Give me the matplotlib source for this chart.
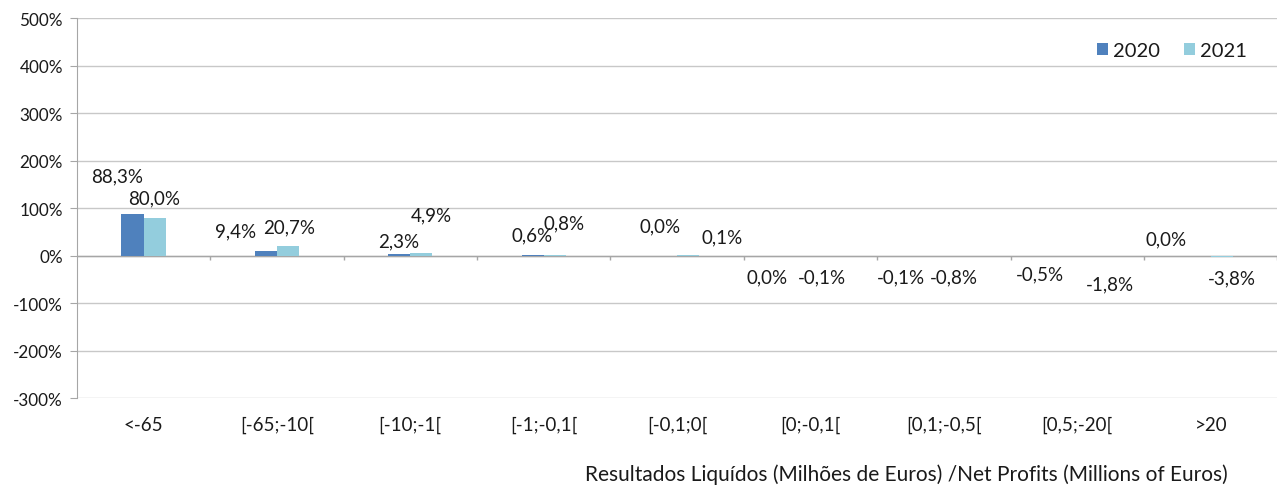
import numpy as np
import matplotlib.pyplot as plt

categorias = ['<-65', '[-65;-10[', '[-10;-1[', '[-1;-0,1[', '[-0,1;0[',
              '[0;-0,1[', '[0,1;-0,5[', '[0,5;-20[', '>20']
v2020 = [88.3, 9.4, 2.3, 0.6, 0.0, 0.0, -0.1, -0.5, 0.0]
v2021 = [80.0, 20.7, 4.9, 0.8, 0.1, -0.1, -0.8, -1.8, -3.8]

# posicion de las etiquetas respecto a la barra (pixeles)
off2020 = [(-15, 38), (-30, 20), (-1, 14), (-1, 20), (-6, 30),
           (-32, -21), (-32, -21), (-26, -18), (-34, 17)]
off2021 = [(0, 20), (1, 19), (10, 38), (9, 32), (34, 19),
           (0, -21), (-1, -21), (22, -27), (10, -21)]

plt.rcParams['font.family'] = ['Lato', 'DejaVu Sans']
plt.rcParams['font.size'] = 12.3

c2020 = '#4f81bd'
c2021 = '#93cddd'
gris = '#a6a6a6'
texto = '#1a1a1a'

fig = plt.figure(figsize=(12.8, 4.89), dpi=100)
ax = fig.add_axes([0.060, 0.184, 0.938, 0.777])

x = np.arange(len(categorias))
w = 0.165
ax.bar(x - w / 2, v2020, w, color=c2020, label='2020', zorder=3)
ax.bar(x + w / 2, v2021, w, color=c2021, label='2021', zorder=3)

def etiqueta(v):
    return f'{v:.1f}%'.replace('.', ',')

for xi, v, off in zip(x - w / 2, v2020, off2020):
    ax.annotate(etiqueta(v), (xi, v), xytext=off, textcoords='offset pixels',
                ha='center', va='center', color=texto, fontsize=13.5)
for xi, v, off in zip(x + w / 2, v2021, off2021):
    ax.annotate(etiqueta(v), (xi, v), xytext=off, textcoords='offset pixels',
                ha='center', va='center', color=texto, fontsize=13.5)

ax.set_xlim(-0.5, len(categorias) - 0.5)
ax.set_ylim(-300, 500)
ax.set_yticks(np.arange(-300, 501, 100))
ax.set_yticklabels([f'{t}%' for t in range(-300, 501, 100)], color=texto)
ax.yaxis.grid(True, color='#c8c8c8', linewidth=1)
ax.set_axisbelow(True)

ax.set_xticks(x)
ax.set_xticklabels(categorias, fontsize=13.5, color=texto)
ax.tick_params(axis='x', length=0, pad=13)
ax.tick_params(axis='y', length=5, color=gris, pad=5)

for s in ['top', 'right', 'bottom']:
    ax.spines[s].set_visible(False)
ax.spines['left'].set_color(gris)

# eje de categorias en el cero con sus marcas
ax.axhline(0, color=gris, linewidth=1, zorder=2)
ax.vlines(np.arange(0.5, len(categorias), 1), -10, 0, color=gris, linewidth=1)

leg = ax.legend(loc='upper right', bbox_to_anchor=(0.99, 0.985), ncol=2, frameon=False,
                handlelength=0.55, handleheight=0.55, columnspacing=1.2, handletextpad=0.25,
                fontsize=14.5)
for t in leg.get_texts():
    t.set_color(texto)

fig.text(0.708, 0.03, 'Resultados Liquídos (Milhões de Euros) /Net Profits (Millions of Euros)',
         ha='center', va='center', color=texto, fontsize=15)

fig.savefig('out.png', dpi=100)
